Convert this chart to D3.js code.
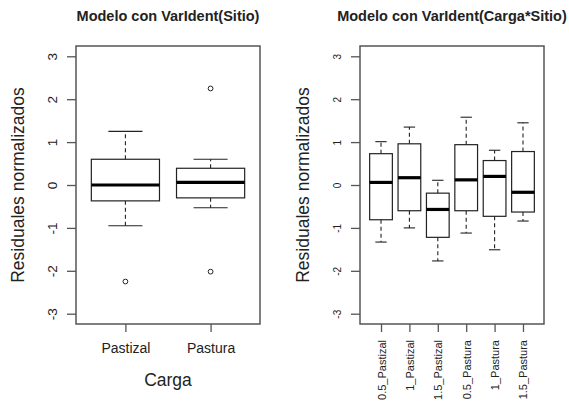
<!DOCTYPE html>
<html>
<head>
<meta charset="utf-8">
<script src="https://cdn.jsdelivr.net/npm/d3@7"></script>
<style>
  html, body { margin: 0; padding: 0; background: #fff; }
  svg { display: block; font-family: "Liberation Sans", Arial, sans-serif; }
</style>
</head>
<body>
<svg id="chart" width="569" height="401"></svg>
<script>
// Left panel: residuals by site
const sitioCats = ["Pastizal", "Pastura"];
const sitioLowWhisker = [-0.95, -0.53];
const sitioQ1 = [-0.37, -0.30];
const sitioMedian = [0.00, 0.06];
const sitioQ3 = [0.60, 0.39];
const sitioHighWhisker = [1.25, 0.60];
const sitioOutliers = [[-2.25], [2.25, -2.02]];

// Right panel: residuals by load x site
const cargaSitioCats = ["0.5_Pastizal", "1_Pastizal", "1.5_Pastizal", "0.5_Pastura", "1_Pastura", "1.5_Pastura"];
const csLowWhisker = [-1.33, -1.00, -1.77, -1.12, -1.51, -0.84];
const csQ1 = [-0.81, -0.60, -1.22, -0.60, -0.73, -0.63];
const csMedian = [0.06, 0.17, -0.57, 0.12, 0.20, -0.17];
const csQ3 = [0.73, 0.96, -0.19, 0.94, 0.57, 0.78];
const csHighWhisker = [1.01, 1.35, 0.11, 1.58, 0.81, 1.45];
const csOutliers = [[], [], [], [], [], []];

const yTicks = [-3, -2, -1, 0, 1, 2, 3];

const svg = d3.select("#chart");
const frameColor = "#555";
const lineColor = "#222";
const textColor = "#222";

function panel(opts) {
  const { left, right, top, bottom, cats, lo, q1, med, q3, hi, out } = opts;
  const n = cats.length;
  // R-style 4% axis expansion around (0.5, n + 0.5)
  const x = d3.scaleLinear().domain([0.5 - n * 0.04, n + 0.5 + n * 0.04]).range([left, right]);
  const y = d3.scaleLinear().domain([-3.24, 3.24]).range([bottom, top]);
  const unit = x(2) - x(1);
  const bw = 0.8 * unit;
  const g = svg.append("g");

  const stats = cats.map((c, i) => ({ c, i: i + 1, lo: lo[i], q1: q1[i], med: med[i], q3: q3[i], hi: hi[i], out: out[i] }));
  const b = g.selectAll("g.box").data(stats).join("g").attr("class", "box");
  // dashed whiskers
  b.append("line")
    .attr("x1", d => x(d.i)).attr("x2", d => x(d.i))
    .attr("y1", d => y(d.q3)).attr("y2", d => y(d.hi))
    .attr("stroke", lineColor).attr("stroke-width", 1.1).attr("stroke-dasharray", "4,3");
  b.append("line")
    .attr("x1", d => x(d.i)).attr("x2", d => x(d.i))
    .attr("y1", d => y(d.q1)).attr("y2", d => y(d.lo))
    .attr("stroke", lineColor).attr("stroke-width", 1.1).attr("stroke-dasharray", "4,3");
  // staples
  ["hi", "lo"].forEach(k => {
    b.append("line")
      .attr("x1", d => x(d.i) - bw / 4).attr("x2", d => x(d.i) + bw / 4)
      .attr("y1", d => y(d[k])).attr("y2", d => y(d[k]))
      .attr("stroke", lineColor).attr("stroke-width", 1.1);
  });
  // boxes
  b.append("rect")
    .attr("x", d => x(d.i) - bw / 2).attr("width", bw)
    .attr("y", d => y(d.q3)).attr("height", d => y(d.q1) - y(d.q3))
    .attr("fill", "#fff").attr("stroke", lineColor).attr("stroke-width", 1.2);
  // medians
  b.append("line")
    .attr("x1", d => x(d.i) - bw / 2).attr("x2", d => x(d.i) + bw / 2)
    .attr("y1", d => y(d.med)).attr("y2", d => y(d.med))
    .attr("stroke", "#000").attr("stroke-width", 3.2);
  // outliers
  b.selectAll("circle").data(d => d.out.map(v => ({ i: d.i, v }))).join("circle")
    .attr("cx", d => x(d.i)).attr("cy", d => y(d.v)).attr("r", 2.4)
    .attr("fill", "none").attr("stroke", lineColor).attr("stroke-width", 1);

  // plot frame
  g.append("rect")
    .attr("x", left).attr("y", top).attr("width", right - left).attr("height", bottom - top)
    .attr("fill", "none").attr("stroke", frameColor).attr("stroke-width", 1.5);

  // y axis
  const yAxis = d3.axisLeft(y).tickValues(yTicks).tickSize(9).tickFormat(d => String(d));
  const ya = g.append("g").attr("transform", `translate(${left},0)`).call(yAxis);
  ya.select(".domain").remove();
  ya.selectAll(".tick line").attr("stroke", frameColor).attr("stroke-width", 1.3);
  ya.selectAll(".tick text")
    .attr("x", null).attr("dy", null)
    .attr("transform", `translate(${opts.yLabelX - left},0) rotate(-90)`)
    .attr("text-anchor", "middle").attr("dominant-baseline", "central")
    .attr("font-size", opts.yTickSize).attr("fill", textColor);

  // x axis
  const xAxis = d3.axisBottom(x).tickValues(d3.range(1, n + 1)).tickSize(8).tickFormat(i => cats[i - 1]);
  const xa = g.append("g").attr("transform", `translate(0,${bottom})`).call(xAxis);
  xa.select(".domain").remove();
  xa.selectAll(".tick line").attr("stroke", frameColor).attr("stroke-width", 1.3);
  if (opts.rotateX) {
    xa.selectAll(".tick text")
      .attr("y", null).attr("dy", null)
      .attr("transform", `translate(0,${opts.xLabelTop - bottom}) rotate(-90)`)
      .attr("text-anchor", "end").attr("dominant-baseline", "central")
      .attr("font-size", opts.xTickSize).attr("fill", textColor);
  } else {
    xa.selectAll(".tick text")
      .attr("y", null).attr("dy", null)
      .attr("transform", `translate(0,${opts.xLabelBase - bottom})`)
      .attr("font-size", opts.xTickSize).attr("fill", textColor);
  }

  // panel title
  g.append("text")
    .attr("x", (left + right) / 2).attr("y", 21)
    .attr("text-anchor", "middle").attr("font-weight", "bold")
    .attr("font-size", opts.titleSize).attr("fill", textColor)
    .text(opts.title);

  // y title
  g.append("text")
    .attr("transform", `translate(${opts.yTitleX},${(top + bottom) / 2}) rotate(-90)`)
    .attr("text-anchor", "middle").attr("dominant-baseline", "central")
    .attr("font-size", 17.5).attr("fill", textColor)
    .text("Residuales normalizados");

  if (opts.xTitle) {
    g.append("text")
      .attr("x", (left + right) / 2).attr("y", 386)
      .attr("text-anchor", "middle")
      .attr("font-size", 17.5).attr("fill", textColor)
      .text(opts.xTitle);
  }
}

panel({
  left: 76, right: 260, top: 46, bottom: 324,
  cats: sitioCats, lo: sitioLowWhisker, q1: sitioQ1, med: sitioMedian, q3: sitioQ3, hi: sitioHighWhisker, out: sitioOutliers,
  yLabelX: 52, yTickSize: 13.5, yTitleX: 18,
  xTickSize: 14, xLabelBase: 353, rotateX: false,
  title: "Modelo con VarIdent(Sitio)", titleSize: 14.5, xTitle: "Carga"
});

panel({
  left: 360, right: 544, top: 46, bottom: 324,
  cats: cargaSitioCats, lo: csLowWhisker, q1: csQ1, med: csMedian, q3: csQ3, hi: csHighWhisker, out: csOutliers,
  yLabelX: 337, yTickSize: 10, yTitleX: 303,
  xTickSize: 11, xLabelTop: 340, rotateX: true,
  title: "Modelo con VarIdent(Carga*Sitio)", titleSize: 14.5, xTitle: null
});
</script>
</body>
</html>
